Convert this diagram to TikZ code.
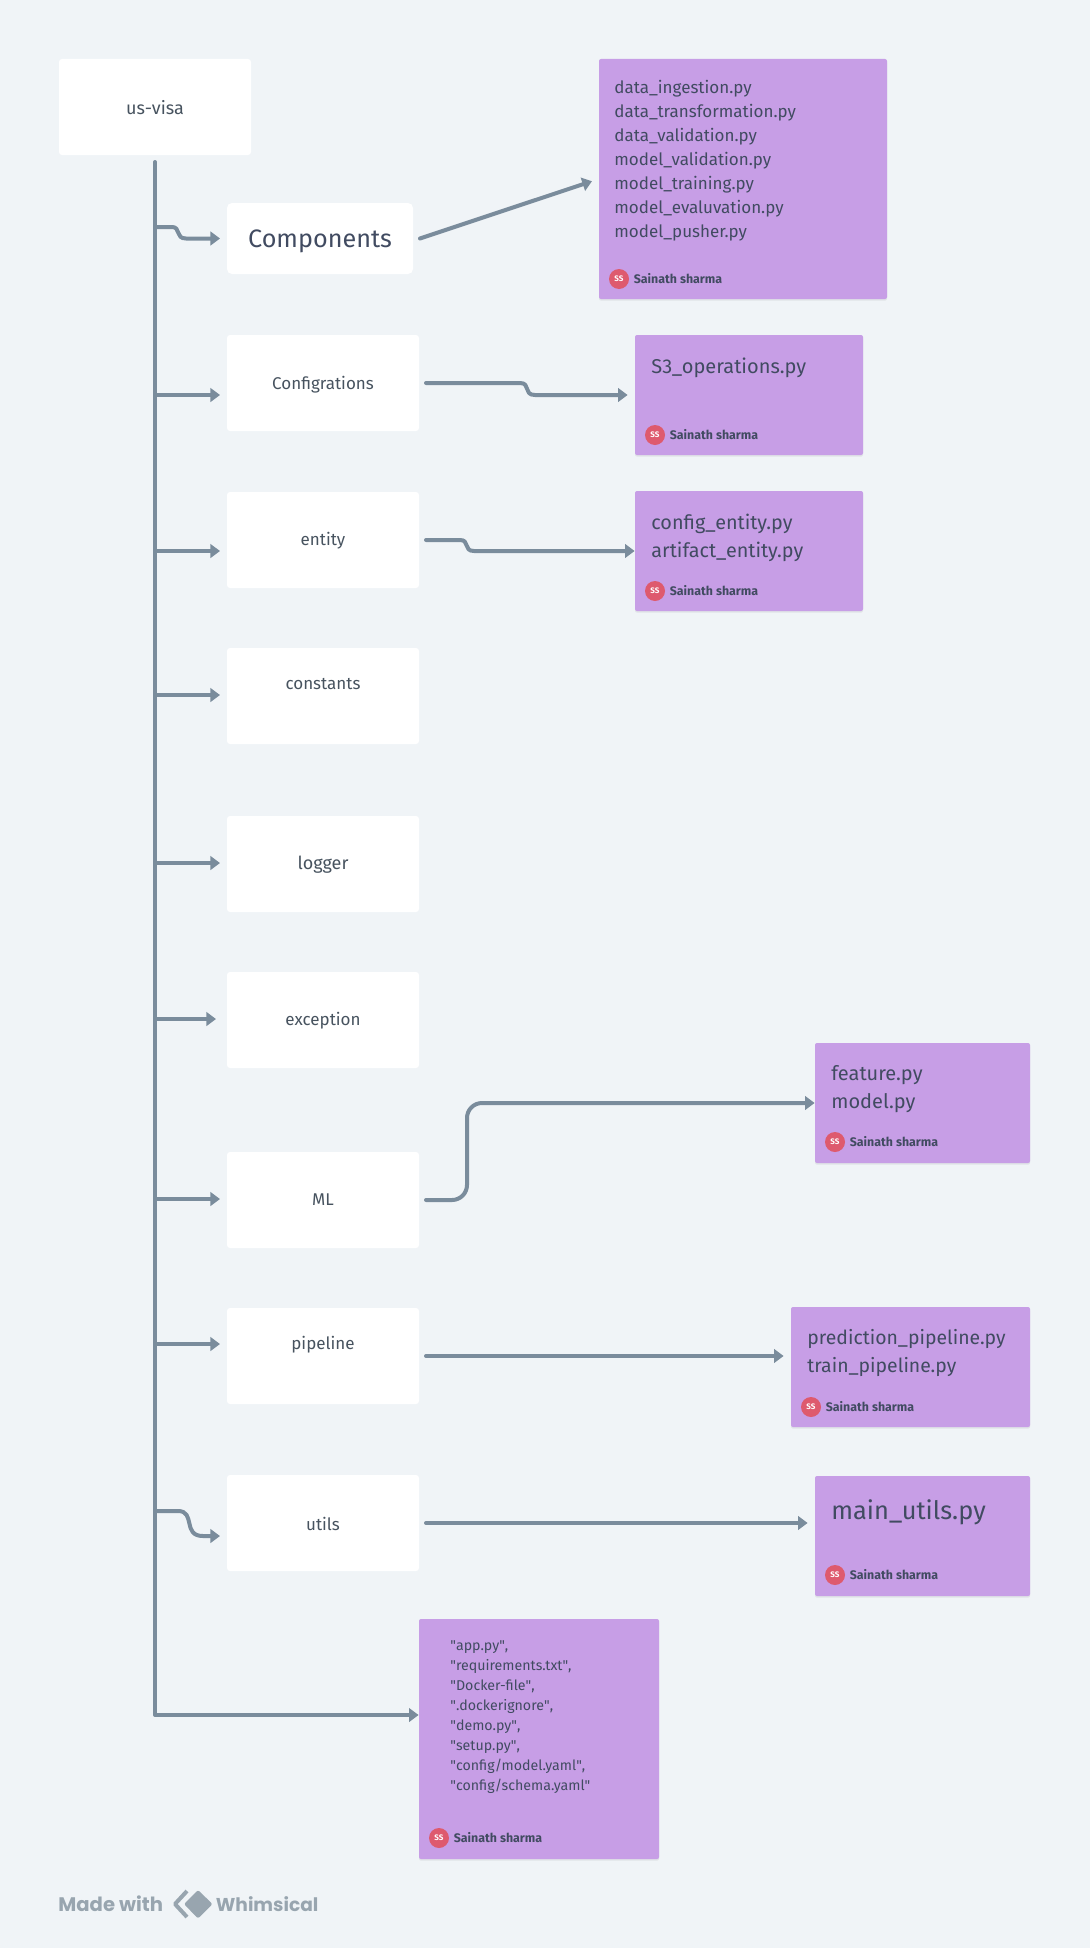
\documentclass[tikz,border=0pt]{standalone}
\usepackage{fontspec}
\setmainfont{Fira Sans}
\newfontfamily\logofont{Poppins}
\usetikzlibrary{arrows.meta,positioning,shadows}

\definecolor{bgcol}{HTML}{F0F4F7}
\definecolor{linecol}{HTML}{7A8C9C}
\definecolor{notecol}{HTML}{C79EE6}
\definecolor{avatarcol}{HTML}{DE5A6E}
\definecolor{inkcol}{HTML}{414B61}
\definecolor{boxink}{HTML}{47535F}
\definecolor{logocol}{HTML}{98A5AF}

\newcommand{\qt}[1]{\textquotedbl #1\textquotedbl}

\tikzset{
  softshadow/.style={drop shadow={opacity=0.14, shadow xshift=0pt, shadow yshift=-0.8pt}},
  whitebox/.style={fill=white, rounded corners=1.5pt, inner sep=0pt, outer sep=3.5pt,
    minimum width=96pt, minimum height=48pt},
  notebox/.style={fill=notecol, rounded corners=1pt, inner sep=0pt, softshadow},
  boxlabel/.style={inner sep=0pt, text=boxink, font=\fontsize{8.5}{10}\selectfont},
  filetext/.style={anchor=west, align=left, inner sep=0pt, text=inkcol},
  avatar/.style={circle, fill=avatarcol, minimum size=10pt, inner sep=0pt, text=white,
    font=\fontsize{4}{4}\selectfont\bfseries},
  authortext/.style={inner sep=0pt, text=inkcol, font=\fontsize{6.2}{7}\selectfont\bfseries},
  conn/.style={draw=linecol, line width=2pt, line cap=round, line join=round},
  gapped/.style={shorten >=3.5pt},
}

\begin{document}
\begin{tikzpicture}[x=0.5pt, y=-0.5pt, >={Triangle[length=4.8pt, width=6.8pt]}]

  % --- background, page size ---
  \path[use as bounding box, fill=bgcol] (0,0) rectangle (1090,1948);

  % --- white boxes ---
  \node[whitebox] (usvisa) at (155,107) {};
  \node[whitebox, minimum width=93pt, minimum height=35.5pt, rounded corners=2.5pt] (components) at (320,238.5) {};
  \node[whitebox] (configrations) at (323,383) {};
  \node[whitebox] (entity) at (323,540) {};
  \node[whitebox] (constants) at (323,696) {};
  \node[whitebox] (logger) at (323,864) {};
  \node[whitebox] (exceptionbox) at (323,1020) {};
  \node[whitebox] (ml) at (323,1200) {};
  \node[whitebox] (pipeline) at (323,1356) {};
  \node[whitebox] (utils) at (323,1523) {};

  % --- box labels ---
  \node[boxlabel, font=\fontsize{9}{10}\selectfont] (usvisalabel) at (155,107.5) {us-visa};
  \node[boxlabel, text=inkcol, font=\fontsize{12.6}{15}\selectfont] (componentslabel) at (320,241.5) {Components};
  \node[boxlabel] (configrationslabel) at (323,385) {Configrations};
  \node[boxlabel] (entitylabel) at (323,541) {entity};
  \node[boxlabel] (constantslabel) at (323,684.5) {constants};
  \node[boxlabel, font=\fontsize{9}{10}\selectfont] (loggerlabel) at (323,865) {logger};
  \node[boxlabel] (exceptionlabel) at (323,1021) {exception};
  \node[boxlabel] (mllabel) at (323,1200) {ML};
  \node[boxlabel] (pipelinelabel) at (323,1345) {pipeline};
  \node[boxlabel] (utilslabel) at (323,1524) {utils};

  % --- purple notes ---
  \node[notebox, minimum width=144pt, minimum height=120pt] (compfiles) at (743,179) {};
  \node[notebox, minimum width=114pt, minimum height=60pt] (configfiles) at (749,395) {};
  \node[notebox, minimum width=114pt, minimum height=60pt] (entityfiles) at (749,551) {};
  \node[notebox, minimum width=107.5pt, minimum height=60pt] (mlfiles) at (922.5,1103) {};
  \node[notebox, minimum width=119.5pt, minimum height=60pt] (pipelinefiles) at (910.5,1367) {};
  \node[notebox, minimum width=107.5pt, minimum height=60pt] (utilsfiles) at (922.5,1536) {};
  \node[notebox, minimum width=120pt, minimum height=120pt] (rootfiles) at (539,1739) {};

  % --- file lists ---
  \node[filetext, font=\fontsize{8.5}{12}\selectfont] (complist) at (614,161) {data\_ingestion.py\\data\_transformation.py\\data\_validation.py\\model\_validation.py\\model\_training.py\\model\_evaluvation.py\\model\_pusher.py};
  \node[filetext, font=\fontsize{10}{14}\selectfont] (configlist) at (651,368) {S3\_operations.py};
  \node[filetext, font=\fontsize{9.9}{14}\selectfont] (entitylist) at (651,537.5) {config\_entity.py\\artifact\_entity.py};
  \node[filetext, font=\fontsize{10}{14}\selectfont] (mllist) at (831,1089) {feature.py\\model.py};
  \node[filetext, font=\fontsize{9.7}{14}\selectfont] (pipelinelist) at (807,1352.5) {prediction\_pipeline.py\\train\_pipeline.py};
  \node[filetext, font=\fontsize{12.7}{15}\selectfont] (utilslist) at (831,1512) {main\_utils.py};
  \node[filetext, font=\fontsize{7.1}{10}\selectfont] (rootlist) at (450,1717) {\qt{app.py},\\\qt{requirements.txt},\\\qt{Docker-file},\\\qt{.dockerignore},\\\qt{demo.py},\\\qt{setup.py},\\\qt{config/model.yaml},\\\qt{config/schema.yaml}};

  % --- author tags ---
  \foreach \id/\ax/\ay in {a/619/279, b/655/435, c/655/591, d/835/1142, e/811/1407, f/835/1575, g/439/1838}{
    \node[avatar] (avatar\id) at (\ax,\ay) {SS};
    \node[authortext, right=2pt of avatar\id] (author\id) {Sainath sharma};
  }

  % --- trunk ---
  \coordinate (trunkend) at (155,1715);
  \draw[conn, ->] (usvisa.south) -- (trunkend) -- (rootfiles.west |- trunkend);

  % --- straight branches ---
  \foreach \n/\y in {configrations/395, entity/551, constants/695, logger/863, ml/1199, pipeline/1344}{
    \coordinate (t\n) at (155,\y);
    \draw[conn, ->] (t\n) -- (\n.west |- t\n);
  }
  \coordinate (texception) at (155,1019);
  \draw[conn, ->, shorten >=2pt] (texception) -- (exceptionbox.west |- texception);

  % --- bent branches ---
  \coordinate (tcomponents) at (155,227);
  \draw[conn, ->] (tcomponents) -- (172,227) .. controls (181,227) and (175,238.5) .. (186,238.5) -- (components.west);
  \coordinate (tutils) at (155,1511);
  \draw[conn, ->] (tutils) -- (178,1511) .. controls (196,1511) and (182,1536) .. (203,1536) -- (utils.west |- 0,1536);

  % --- box to note ---
  \draw[conn, ->, gapped] (components.east) -- (compfiles.west);
  \draw[conn, ->, gapped] (configrations.east) -- (520,383) .. controls (531,383) and (523,395) .. (535,395) -- (configfiles.west);
  \draw[conn, ->] (entity.east) -- (460,540) .. controls (470,540) and (463,551) .. (474,551) -- (entityfiles.west);
  \draw[conn, ->, rounded corners=7.5pt] (ml.east) -| (467,1103) -- (mlfiles.west);
  \draw[conn, ->, gapped] (pipeline.east) -- (pipelinefiles.west |- pipeline.east);
  \draw[conn, ->, gapped] (utils.east) -- (utilsfiles.west |- utils.east);

  % --- footer ---
  \node[inner sep=0pt, anchor=west, text=logocol, font=\logofont\bfseries\fontsize{9.8}{11}\selectfont] (madewith) at (58,1904) {Made with};
  \node[inner sep=0pt, anchor=west, text=logocol, font=\logofont\bfseries\fontsize{9.3}{11}\selectfont] (whimsical) at (215.5,1904) {Whimsical};
  \draw[logocol, line width=2pt, line join=round] (187,1891) -- (175,1904) -- (187,1917);
  \fill[logocol, rounded corners=1pt] (198,1890) -- (212.5,1904) -- (198,1918.5) -- (184,1904) -- cycle;

\end{tikzpicture}
\end{document}
